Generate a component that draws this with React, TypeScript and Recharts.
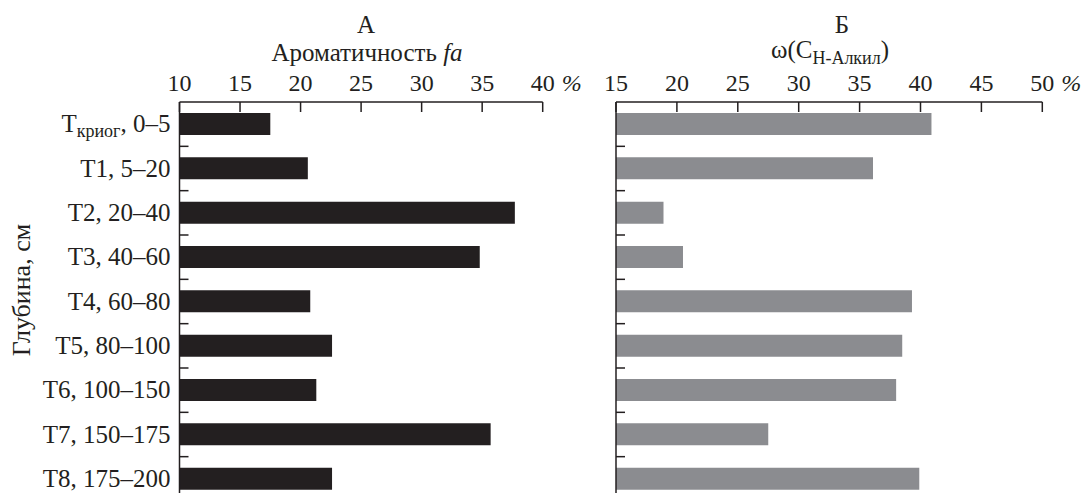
import { BarChart, Bar, XAxis, YAxis } from "recharts"

// горизонты и интервалы глубин, см
const horizons = ["Ткриог", "Т1", "Т2", "Т3", "Т4", "Т5", "Т6", "Т7", "Т8"]
const depthRanges = ["0–5", "5–20", "20–40", "40–60", "60–80", "80–100", "100–150", "150–175", "175–200"]

// А: ароматичность fa, %
const aromaticity = [17.5, 20.6, 37.7, 34.8, 20.8, 22.6, 21.3, 35.7, 22.6]
// Б: доля C н-алкил, %
const alkyl = [40.9, 36.1, 18.9, 20.5, 39.3, 38.5, 38.0, 27.5, 39.9]

const ticksA = [10, 15, 20, 25, 30, 35, 40]
const ticksB = [15, 20, 25, 30, 35, 40, 45, 50]

const data = horizons.map((h, i) => ({
  name: `${h}, ${depthRanges[i]}`,
  fa: aromaticity[i],
  alkyl: alkyl[i],
}))

const ink = "#231f20"
const font = "'Liberation Serif', 'DejaVu Serif', serif"
const fs = 24
const labelFs = 25

const ValueTick = ({ x, y, payload, last }: any) => (
  <g>
    <line x1={x} y1={y} x2={x} y2={y + 10} stroke={ink} strokeWidth={1.5} />
    <text x={x} y={y - 11} textAnchor="middle" fontFamily={font} fontSize={fs} fill={ink}>
      {payload.value}
    </text>
    {payload.value === last && (
      <text x={x + 19} y={y - 11} fontFamily={font} fontSize={fs} fontStyle="italic" fill={ink}>
        %
      </text>
    )}
  </g>
)

const DepthTick = ({ x, y, payload, index, showLabel }: any) => {
  const half = payload.offset ?? 22
  const name: string = payload.value
  const isKriog = name.startsWith("Ткриог")
  return (
    <g>
      {index < horizons.length - 1 && (
        <line x1={x} y1={y + half} x2={x + 9} y2={y + half} stroke={ink} strokeWidth={1.5} />
      )}
      {showLabel && (
        <text x={x - 9} y={y + 8} textAnchor="end" fontFamily={font} fontSize={labelFs} fill={ink}>
          {isKriog ? (
            <>
              <tspan>Т</tspan>
              <tspan fontSize={18} dy={5}>криог</tspan>
              <tspan dy={-5}>{name.slice(6)}</tspan>
            </>
          ) : (
            name
          )}
        </text>
      )}
    </g>
  )
}

export default function App() {
  return (
    <div style={{ position: "absolute", left: 0, top: 0, width: 1085, height: 493, overflow: "hidden", background: "#fff" }}>
      <svg width={1085} height={70} style={{ position: "absolute", left: 0, top: 0 }}>
        <text x={366} y={33} textAnchor="middle" fontFamily={font} fontSize={labelFs} fill={ink}>А</text>
        <text x={367} y={61} textAnchor="middle" fontFamily={font} fontSize={labelFs} fill={ink}>
          Ароматичность <tspan fontStyle="italic">fa</tspan>
        </text>
        <text x={842} y={33} textAnchor="middle" fontFamily={font} fontSize={labelFs} fill={ink}>Б</text>
        <text x={830} y={58} textAnchor="middle" fontFamily={font} fontSize={labelFs} fill={ink}>
          ω(C<tspan fontSize={18} dy={6}>Н-Алкил</tspan><tspan dy={-6}>)</tspan>
        </text>
      </svg>

      <svg width={40} height={493} style={{ position: "absolute", left: 0, top: 0 }}>
        <text
          x={0}
          y={0}
          transform="translate(30, 290) rotate(-90)"
          textAnchor="middle"
          fontFamily={font}
          fontSize={26}
          fill={ink}
        >
          Глубина, см
        </text>
      </svg>

      <div style={{ position: "absolute", left: 0, top: 0 }}>
        <BarChart
          width={600}
          height={501}
          data={data}
          layout="vertical"
          margin={{ top: 72, right: 57.3, bottom: 0, left: 0 }}
        >
          <XAxis
            type="number"
            orientation="top"
            domain={[10, 40]}
            ticks={ticksA}
            interval={0}
            height={30}
            tickSize={0}
            tickMargin={0}
            axisLine={{ stroke: ink, strokeWidth: 1.5 }}
            tick={<ValueTick last={40} />}
          />
          <YAxis
            type="category"
            dataKey="name"
            width={179.5}
            interval={0}
            tickSize={0}
            tickMargin={0}
            axisLine={{ stroke: ink, strokeWidth: 1.5 }}
            tick={<DepthTick showLabel />}
          />
          <Bar dataKey="fa" fill={ink} barSize={22} isAnimationActive={false} />
        </BarChart>
      </div>

      <div style={{ position: "absolute", left: 580, top: 0 }}>
        <BarChart
          width={505}
          height={501}
          data={data}
          layout="vertical"
          margin={{ top: 72, right: 42.7, bottom: 0, left: 0 }}
        >
          <XAxis
            type="number"
            orientation="top"
            domain={[15, 50]}
            ticks={ticksB}
            interval={0}
            height={30}
            tickSize={0}
            tickMargin={0}
            axisLine={{ stroke: ink, strokeWidth: 1.5 }}
            tick={<ValueTick last={50} />}
          />
          <YAxis
            type="category"
            dataKey="name"
            width={36}
            interval={0}
            tickSize={0}
            tickMargin={0}
            axisLine={{ stroke: ink, strokeWidth: 1.5 }}
            tick={<DepthTick showLabel={false} />}
          />
          <Bar dataKey="alkyl" fill="#8b8c90" barSize={22} isAnimationActive={false} />
        </BarChart>
      </div>
    </div>
  )
}
